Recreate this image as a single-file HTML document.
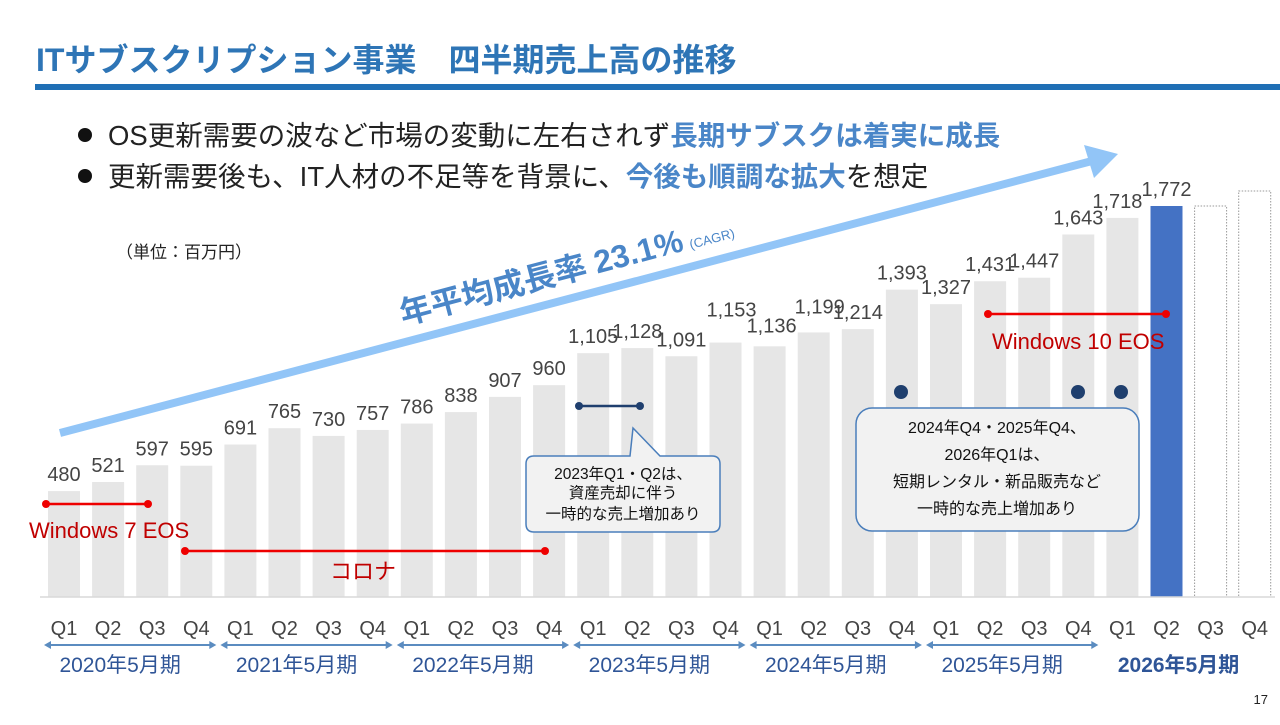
<!DOCTYPE html>
<html><head><meta charset="utf-8"><style>
body{margin:0;width:1280px;height:720px;background:#fff;overflow:hidden;font-family:"Liberation Sans","Noto Sans CJK JP",sans-serif;}
</style></head><body>
<svg id="c" width="1280" height="720" xmlns="http://www.w3.org/2000/svg" font-family="Liberation Sans, Noto Sans CJK JP, sans-serif">
<text x="36" y="71" font-size="32" font-weight="bold" fill="#2e75b6">ITサブスクリプション事業　四半期売上高の推移</text>
<rect x="35" y="84" width="1245" height="6" fill="#1f6fb5"/>
<g font-size="27.5" fill="#222">
<circle cx="85" cy="135" r="7" fill="#111"/>
<text x="108" y="145">OS更新需要の波など市場の変動に左右されず<tspan font-weight="bold" fill="#4a86c8">長期サブスクは着実に成長</tspan></text>
<circle cx="85" cy="176" r="7" fill="#111"/>
<text x="108" y="186">更新需要後も、IT人材の不足等を背景に、<tspan font-weight="bold" fill="#4a86c8">今後も順調な拡大</tspan>を想定</text>
</g>
<text x="116" y="258" font-size="17" fill="#222">（単位：百万円）</text>
<g id="bars"></g>
<line x1="40" y1="597" x2="1275" y2="597" stroke="#d9d9d9" stroke-width="1.5"/>
<g>
<line x1="60" y1="433" x2="1092" y2="161" stroke="#92c5f7" stroke-width="8"/>
<polygon points="1118,154 1084,145 1094,178" fill="#92c5f7"/>
</g>
<text transform="translate(403,325) rotate(-14.8)" font-size="32" font-weight="bold" fill="#4a86c8">年平均成長率 23.1%<tspan font-size="13" font-weight="normal" dx="6">(CAGR)</tspan></text>
<g id="ann">
<line x1="46" y1="504" x2="148" y2="504" stroke="#e00" stroke-width="2.5"/><circle cx="46" cy="504" r="4" fill="#e00"/><circle cx="148" cy="504" r="4" fill="#e00"/>
<text x="29" y="538" font-size="22" fill="#c00000">Windows 7 EOS</text>
<line x1="185" y1="551" x2="545" y2="551" stroke="#e00" stroke-width="2.5"/><circle cx="185" cy="551" r="4" fill="#e00"/><circle cx="545" cy="551" r="4" fill="#e00"/>
<text x="330" y="579" font-size="22" fill="#c00000">コロナ</text>
<line x1="988" y1="314" x2="1166" y2="314" stroke="#e00" stroke-width="2.5"/><circle cx="988" cy="314" r="4" fill="#e00"/><circle cx="1166" cy="314" r="4" fill="#e00"/>
<text x="992" y="349" font-size="22" fill="#c00000">Windows 10 EOS</text>
<line x1="579" y1="406" x2="640" y2="406" stroke="#1f3f6e" stroke-width="2.5"/><circle cx="579" cy="406" r="4" fill="#1f3f6e"/><circle cx="640" cy="406" r="4" fill="#1f3f6e"/>
<path d="M534,456 H630 L633,428 L660,456 H712 Q720,456 720,464 V524 Q720,532 712,532 H534 Q526,532 526,524 V464 Q526,456 534,456 Z" fill="#f2f2f2" stroke="#4a7ebb" stroke-width="1.5"/>
<g font-size="15.5" fill="#111" text-anchor="middle"><text x="623" y="479">2023年Q1・Q2は、</text><text x="623" y="498">資産売却に伴う</text><text x="623" y="519">一時的な売上増加あり</text></g>
<circle cx="901" cy="392" r="7" fill="#1f3f6e"/><circle cx="1078" cy="392" r="7" fill="#1f3f6e"/><circle cx="1121" cy="392" r="7" fill="#1f3f6e"/>
<rect x="856" y="408" width="283" height="123" rx="16" fill="#f2f2f2" stroke="#4a7ebb" stroke-width="1.5"/>
<g font-size="16" fill="#111" text-anchor="middle"><text x="997" y="433">2024年Q4・2025年Q4、</text><text x="997" y="460">2026年Q1は、</text><text x="997" y="487">短期レンタル・新品販売など</text><text x="997" y="514">一時的な売上増加あり</text></g>
</g>
<g id="xaxis"></g>
<text x="1268" y="704" font-size="13" fill="#222" text-anchor="end">17</text>
</svg>
<script>
const quarters=["Q1","Q2","Q3","Q4"];
const fiscalYears=["2020年5月期","2021年5月期","2022年5月期","2023年5月期","2024年5月期","2025年5月期","2026年5月期"];
const values=[480,521,597,595,691,765,730,757,786,838,907,960,1105,1128,1091,1153,1136,1199,1214,1393,1327,1431,1447,1643,1718,1772];
const forecastValues=[1772,1840];
const NS="http://www.w3.org/2000/svg";
const base=597, scale=(597-206)/1772, x0=64, step=44.1, bw=32;
const xc=i=>x0+i*step; const yv=v=>base-v*scale;
const lblDx={15:6,16:2,17:6,24:-5}, lblDy={15:-16,16:-4,17:-9};
function mk(t,a,p){const e=document.createElementNS(NS,t);for(const k in a)e.setAttribute(k,a[k]);(p||document.getElementById('bars')).appendChild(e);return e;}
values.forEach((v,i)=>{
 const r=mk('rect',{x:xc(i)-bw/2,y:yv(v),width:bw,height:v*scale,fill:i===25?'#4472c4':'#e6e6e6'});
 
 
 const t=mk('text',{x:xc(i)+(lblDx[i]||0),y:yv(v)-10+(lblDy[i]||0),'font-size':20,fill:'#444','text-anchor':'middle'});
 t.textContent=v.toLocaleString('en-US');
 
 
});
forecastValues.forEach((v,j)=>{
 const i=26+j;
 const r=mk('rect',{x:xc(i)-bw/2,y:yv(v),width:bw,height:v*scale,fill:'none',stroke:'#999','stroke-dasharray':'1.5 1.5'});
 
 
});
const ax=document.getElementById('xaxis');
for(let i=0;i<28;i++){
 const t=mk('text',{x:xc(i),y:635,'font-size':20,fill:'#444','text-anchor':'middle'},ax);
 t.textContent=quarters[i%4];
 
 
}
fiscalYears.forEach((fy,k)=>{
 const a=xc(k*4)-20, b=xc(k*4+3)+20, last=k===fiscalYears.length-1;
 if(!last){
  const g=mk('g',{},ax);
  
  
  mk('line',{x1:a+6,y1:645,x2:b-6,y2:645,stroke:'#5b8cc0','stroke-width':2},g);
  mk('polygon',{points:`${a},645 ${a+7},641 ${a+7},649`,fill:'#5b8cc0'},g);
  mk('polygon',{points:`${b},645 ${b-7},641 ${b-7},649`,fill:'#5b8cc0'},g);
 }
 const t=mk('text',{x:(a+b)/2-10,y:672,'font-size':21,fill:'#2f5597','text-anchor':'middle','font-weight':last?'bold':'normal'},ax);
 t.textContent=fy;
 
 
});
</script>
</body></html>
